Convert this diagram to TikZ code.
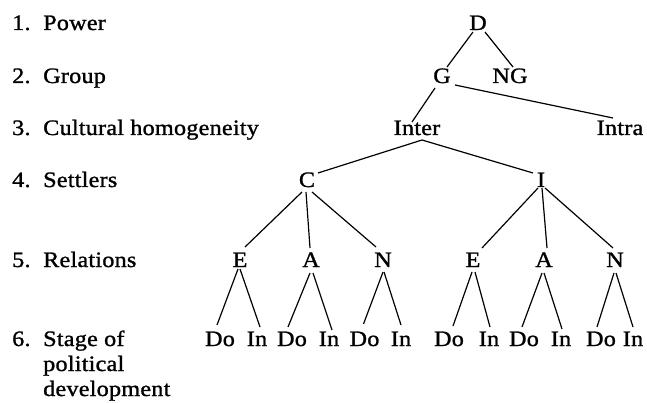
\documentclass[tikz,border=0pt]{standalone}
\usepackage{fontspec}
\setmainfont[FakeStretch=1.1,LetterSpace=1,FakeBold=1.2]{Liberation Serif}
\usetikzlibrary{calc}
\begin{document}
\begin{tikzpicture}[x=1pt,y=-1pt,
  t/.style={anchor=base,inner sep=0pt,font=\fontsize{22}{26}\selectfont},
  lbl/.style={anchor=base west,inner sep=0pt,font=\fontsize{22}{26}\selectfont},
  edge/.style={line width=1.2pt}]
\useasboundingbox (0,0) rectangle (647,403);
% left labels
\node[lbl] (n1) at (12,30) {1.};  \node[lbl] (l1) at (43,30) {Power};
\node[lbl] (n2) at (12,83) {2.};  \node[lbl] (l2) at (43,83) {Group};
\node[lbl] (n3) at (12,135) {3.}; \node[lbl] (l3) at (43,135) {Cultural homogeneity};
\node[lbl] (n4) at (12,187) {4.}; \node[lbl] (l4) at (43,187) {Settlers};
\node[lbl] (n5) at (12,267) {5.}; \node[lbl] (l5) at (43,267) {Relations};
\node[lbl] (n6) at (12,346) {6.}; \node[lbl] (l6a) at (43,346) {Stage of};
\node[lbl] (l6b) at (43,371) {political};
\node[lbl] (l6c) at (43,396) {development};
% tree nodes
\node[t] (D) at (478,30) {D};
\node[t] (G) at (442,83) {G};
\node[t] (NG) at (510,83) {NG};
\node[t] (Inter) at (417,135) {Inter};
\node[t] (Intra) at (620,135) {Intra};
\node[t] (C) at (307,187) {C};
\node[t] (I) at (541,187) {I};
\node[t] (E1) at (240,267) {E};
\node[t] (A1) at (311,267) {A};
\node[t] (N1) at (383,267) {N};
\node[t] (E2) at (473,267) {E};
\node[t] (A2) at (544,267) {A};
\node[t] (N2) at (615,267) {N};
\node[t] (Do1) at (220,346) {Do};
\node[t] (In1) at (257,346) {In};
\node[t] (Do2) at (292,346) {Do};
\node[t] (In2) at (329,346) {In};
\node[t] (Do3) at (364.5,346) {Do};
\node[t] (In3) at (401,346) {In};
\node[t] (Do4) at (449,346) {Do};
\node[t] (In4) at (489,346) {In};
\node[t] (Do5) at (524,346) {Do};
\node[t] (In5) at (561,346) {In};
\node[t] (Do6) at (601,346) {Do};
\node[t] (In6) at (633,346) {In};
% connectors
\draw[edge] ($(D.base)+(-5,2)$) -- ($(G.base)+(5,-16)$);
\draw[edge] ($(D.base)+(7,2)$) -- ($(NG.base)+(3,-16)$);
\draw[edge] ($(G.base)+(-7,5)$) -- ($(Inter.base)+(-5,-13)$);
\draw[edge] ($(G.base)+(13,2)$) -- ($(Intra.base)+(-7,-17)$);
\draw[edge] ($(Inter.base)+(5,5)$) -- ($(C.base)+(11,-14)$);
\draw[edge] ($(Inter.base)+(5,5)$) -- ($(I.base)+(-8,-14)$);
\draw[edge] ($(C.base)+(-5,5)$) -- ($(E1.base)+(5,-20)$);
\draw[edge] ($(C.base)+(-1,5)$) -- ($(A1.base)+(-1,-19)$);
\draw[edge] ($(C.base)+(5,5)$) -- ($(N1.base)+(-7,-20)$);
\draw[edge] ($(I.base)+(-3,1)$) -- ($(E2.base)+(9,-19)$);
\draw[edge] ($(I.base)+(1,1)$) -- ($(A2.base)+(3,-19)$);
\draw[edge] ($(I.base)+(4,1)$) -- ($(N2.base)+(-2,-19)$);
\draw[edge] ($(E1.base)+(-2,2)$) -- ($(Do1.base)+(-3,-21)$);
\draw[edge] ($(E1.base)+(0,2)$) -- ($(In1.base)+(3,-19)$);
\draw[edge] ($(A1.base)+(-1,6)$) -- ($(Do2.base)+(-4,-19)$);
\draw[edge] ($(A1.base)+(2,6)$) -- ($(In2.base)+(3,-16)$);
\draw[edge] ($(N1.base)+(0,5)$) -- ($(Do3.base)+(-1,-22)$);
\draw[edge] ($(N1.base)+(1,5)$) -- ($(In3.base)+(0,-21)$);
\draw[edge] ($(E2.base)+(-1,5)$) -- ($(Do4.base)+(4,-20)$);
\draw[edge] ($(E2.base)+(2,5)$) -- ($(In4.base)+(1,-19)$);
\draw[edge] ($(A2.base)+(-2,6)$) -- ($(Do5.base)+(-2,-19)$);
\draw[edge] ($(A2.base)+(0,6)$) -- ($(In5.base)+(1,-17)$);
\draw[edge] ($(N2.base)+(-1,6)$) -- ($(Do6.base)+(-4,-19)$);
\draw[edge] ($(N2.base)+(1,6)$) -- ($(In6.base)+(0,-19)$);
\end{tikzpicture}
\end{document}
